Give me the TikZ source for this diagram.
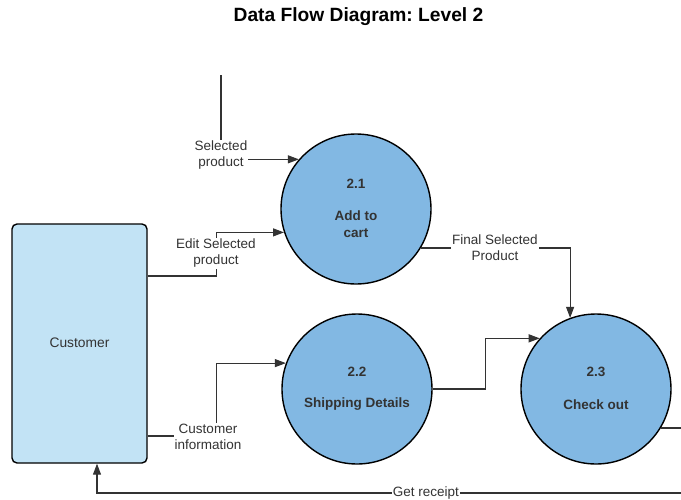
\documentclass[tikz,border=0pt]{standalone}
\usepackage{fontspec}
\setmainfont{Liberation Sans}
\usetikzlibrary{arrows.meta,calc}
\definecolor{procfill}{HTML}{82B8E3}
\definecolor{entfill}{HTML}{C2E3F5}
\definecolor{ink}{HTML}{333333}
\frenchspacing
\begin{document}
\begin{tikzpicture}[x=1pt,y=-1pt,
  proc/.style={circle,draw=black,line width=1.4pt,fill=procfill,minimum size=150pt,inner sep=0pt},
  ent/.style={rectangle,rounded corners=5pt,draw=black,line width=1.4pt,fill=entfill,minimum width=135pt,minimum height=239pt,inner sep=0pt},
  flow/.style={draw=ink,line width=1.1pt,-{Triangle[length=11pt,width=8pt]}},
  lbl/.style={fill=white,text=ink,font=\fontsize{13.5}{16}\selectfont,align=center,inner sep=1pt},
  ptxt/.style={text=ink,font=\bfseries\fontsize{13.5}{17}\selectfont,align=center,inner sep=0pt},
  etxt/.style={text=ink,font=\fontsize{13.8}{16}\selectfont,inner sep=0pt}]
\clip (0,0) rectangle (681,499);
\fill[white] (0,0) rectangle (681,499);
\node[font=\bfseries\fontsize{19.2}{23}\selectfont] (title) at (358.5,16.5) {Data Flow Diagram: Level 2};
% entity and processes
\node[ent] (cust) at (79.5,343.5) {};
\node[etxt] (custtxt) at (79.5,343) {Customer};
\node[proc] (p1) at (356,209) {};
\node[proc] (p2) at (357,389) {};
\node[proc] (p3) at (596,389) {};
\node[ptxt] (p1n) at (356,184) {2.1};
\node[ptxt] (p1t) at (356,224) {Add to\\cart};
\node[ptxt] (p2n) at (357,372) {2.2};
\node[ptxt] (p2t) at (357,404.5) {Shipping Details};
\node[ptxt] (p3n) at (596,372) {2.3};
\node[ptxt] (p3t) at (596,404.5) {Check out};
% free ends
\coordinate (sp) at (221,75);
\coordinate (rc) at (695,493);
% flows
\draw[flow] (sp) |- (p1.139.3);
\draw[flow] ([yshift=67.5pt]cust.east) -- ++(69,0) |- (p1.198.7);
\draw[flow] ([yshift=-92.5pt]cust.east) -- ++(69,0) |- (p2.160.5);
\draw[flow] (p1.-31.3) -| (p3.110.3);
\draw[flow] (p2.east) -- ++(53,0) |- (p3.138.2);
\draw[draw=ink,line width=1.1pt] (p3.-31.3) -| (rc);
\draw[flow] (rc) -| ([xshift=17.5pt]cust.south);
% labels
\node[lbl] (l1) at (221,155.5) {Selected\\product};
\node[lbl] (l2) at (216,253.5) {Edit Selected\\product};
\node[lbl] (l3) at (208,436.5) {Customer\\information};
\node[lbl] (l4) at (495,247.5) {Final Selected\\Product};
\node[lbl,inner sep=0.5pt] (l5) at (426,493) {Get receipt};
\end{tikzpicture}
\end{document}
